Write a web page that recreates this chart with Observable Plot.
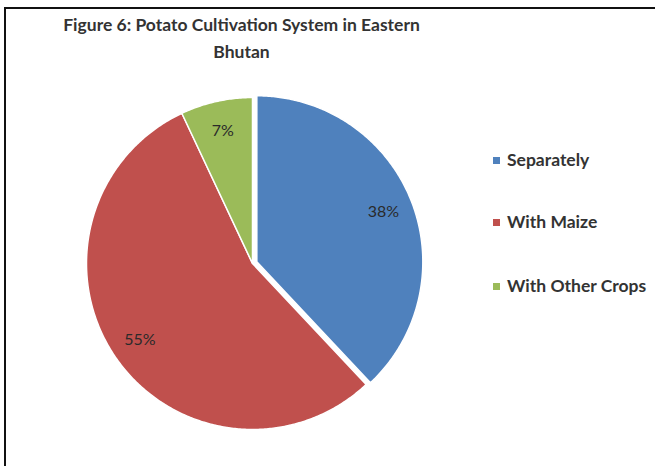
<!DOCTYPE html>
<html><head><meta charset="utf-8">
<script src="https://cdn.jsdelivr.net/npm/d3@7"></script>
<script src="https://cdn.jsdelivr.net/npm/@observablehq/plot@0.6"></script>
<style>
body{margin:0;background:#fff;}
#wrap{position:relative;width:655px;height:466px;overflow:hidden;background:#fff;font-family:Lato,"Open Sans",sans-serif;}
#frame{position:absolute;left:4px;top:7px;width:700px;height:500px;border-top:2.5px solid #111;border-left:2.5px solid #111;box-sizing:border-box;}
#chart{position:absolute;left:0;top:0;}
#title{position:absolute;left:0;width:483px;top:11px;text-align:center;font-weight:bold;color:#333;font-size:17.5px;line-height:27px;}
#title span{display:inline-block;white-space:nowrap;}
.item{position:absolute;left:493px;white-space:nowrap;font-weight:bold;color:#333;font-size:17.5px;line-height:20px;}
.sw{display:inline-block;width:7px;height:7px;margin-right:7px;vertical-align:middle;position:relative;top:-1px;}
</style></head>
<body>
<div id="wrap">
  <div id="frame"></div>
  <div id="chart"></div>
  <div id="title"></div>
  <div id="legend"></div>
</div>
<script>
// ---- data ----
const titleLines = ["Figure 6: Potato Cultivation System in Eastern", "Bhutan"];
const categories = ["Separately", "With Maize", "With Other Crops"];
const values = [38, 55, 7];
const labels = ["38%", "55%", "7%"];
const colors = ["#4F81BD", "#C0504D", "#9BBB59"];
const explode = [0.028, 0, 0];

// ---- geometry from data ----
const pie = d3.pie().sort(null).value(d => d.value)(categories.map((c, i) => ({cat: c, value: values[i], i})));
const polys = [];
const labelPts = [];
pie.forEach(s => {
  const i = s.data.i;
  const mid = (s.startAngle + s.endAngle) / 2;
  const ox = explode[i] * Math.sin(mid), oy = explode[i] * Math.cos(mid);
  polys.push({cat: s.data.cat, x: ox, y: oy});
  const n = Math.max(2, Math.ceil((s.endAngle - s.startAngle) / 0.01));
  for (let k = 0; k <= n; k++) {
    const a = s.startAngle + (s.endAngle - s.startAngle) * k / n;
    polys.push({cat: s.data.cat, x: ox + Math.sin(a), y: oy + Math.cos(a)});
  }
  labelPts.push({label: labels[i], x: ox + 0.82 * Math.sin(mid), y: oy + 0.82 * Math.cos(mid)});
});

const cx = 252, cy = 263, r = 166;
const plot = Plot.plot({
  width: 655, height: 466,
  margin: 0,
  x: {domain: [-1, 1], range: [cx - r, cx + r], axis: null},
  y: {domain: [-1, 1], range: [cy + r, cy - r], axis: null},
  color: {domain: categories, range: colors},
  style: {background: "transparent"},
  marks: [
    Plot.line(polys, {x: "x", y: "y", z: "cat", fill: "cat", stroke: "white", strokeWidth: 1.5, curve: "linear-closed"}),
    Plot.text(labelPts, {x: "x", y: "y", text: "label", fontSize: 16, fill: "#2a2a2a", fontFamily: "Lato, sans-serif"})
  ]
});
document.getElementById("chart").appendChild(plot);

// title
const t = document.getElementById("title");
titleLines.forEach((l, k) => {
  const s = document.createElement("span"); s.textContent = l; t.appendChild(s);
  if (k < titleLines.length - 1) t.appendChild(document.createElement("br"));
});

// legend
const legendTops = [150, 212, 276];
const lg = document.getElementById("legend");
categories.forEach((c, i) => {
  const d = document.createElement("div");
  d.className = "item";
  d.style.top = legendTops[i] + "px";
  const sw = document.createElement("span");
  sw.className = "sw"; sw.style.background = colors[i];
  d.appendChild(sw);
  d.appendChild(document.createTextNode(c));
  lg.appendChild(d);
});
</script>
</body></html>
